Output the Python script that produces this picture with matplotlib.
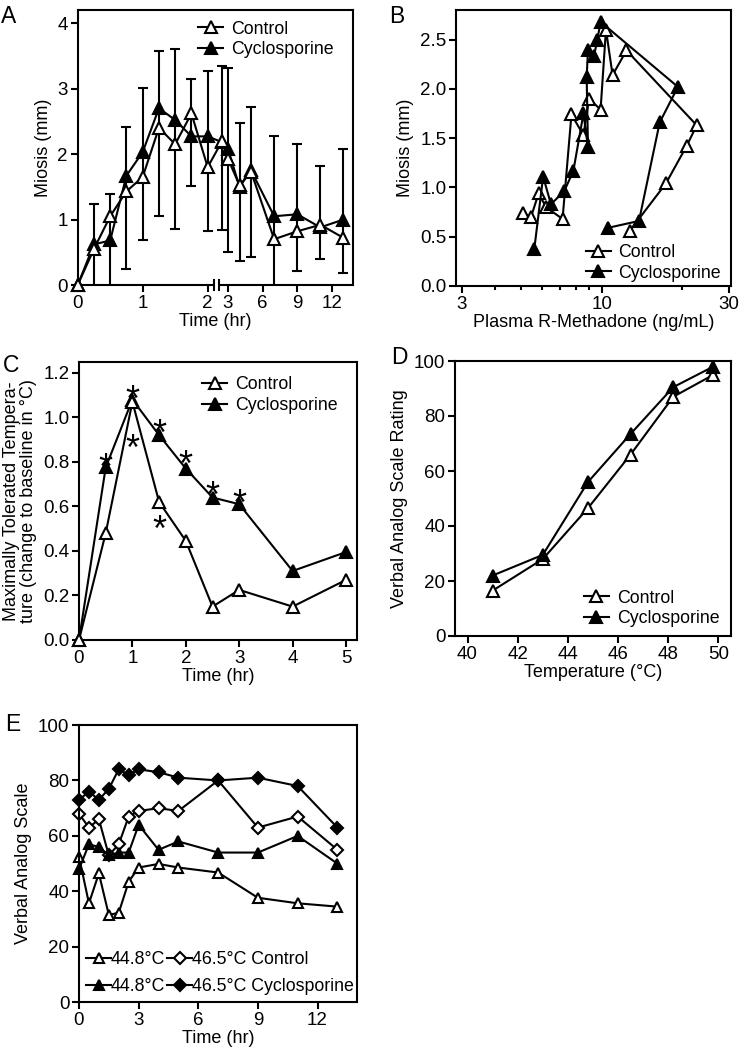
import numpy as np
import matplotlib
matplotlib.use('Agg')
import matplotlib.pyplot as plt
from matplotlib.ticker import FixedLocator, FormatStrFormatter, NullFormatter

plt.rcParams['font.family'] = ['Liberation Sans', 'DejaVu Sans']
plt.rcParams['font.size'] = 13.5
plt.rcParams['axes.linewidth'] = 1.5
plt.rcParams['xtick.major.width'] = 1.5
plt.rcParams['ytick.major.width'] = 1.5
plt.rcParams['xtick.minor.width'] = 1.5
plt.rcParams['xtick.major.size'] = 5
plt.rcParams['ytick.major.size'] = 5
plt.rcParams['xtick.minor.size'] = 3
plt.rcParams['xtick.major.pad'] = 2
plt.rcParams['ytick.major.pad'] = 2

# ---- data ----
# A: miosis vs time
a_time = [0, 0.25, 0.5, 0.75, 1, 1.25, 1.5, 1.75, 2, 2.5, 3, 4, 5, 7, 9, 11, 13]
a_ctrl = [0, 0.55, 1.05, 1.43, 1.65, 2.40, 2.15, 2.62, 1.80, 2.20, 1.93, 1.52, 1.73, 0.70, 0.82, 0.92, 0.72]
a_cyc = [0, 0.62, 0.68, 1.67, 2.03, 2.70, 2.52, 2.27, 2.27, 2.18, 2.08, 1.50, 1.75, 1.05, 1.08, 0.88, 1.00]
a_err_t = [0.25, 0.5, 0.75, 1, 1.25, 1.5, 1.75, 2, 2.5, 3, 4, 5, 7, 9, 11, 13]
a_err_lo = [-0.2, -0.2, 0.25, 0.68, 1.06, 0.86, 1.51, 0.82, 0.84, 0.51, 0.36, 0.43, -0.3, 0.22, 0.40, 0.19]
a_err_hi = [1.23, 1.39, 2.42, 3.01, 3.57, 3.60, 3.15, 3.27, 3.34, 3.32, 2.48, 2.72, 2.27, 2.16, 1.81, 2.07]
a_ticks = [0, 1, 2, 3, 6, 9, 12]

# B: miosis vs plasma R-methadone
b_ctrl_conc = [5.06, 5.44, 5.81, 6.19, 7.14, 7.71, 8.55, 8.97, 9.91, 10.38, 10.99, 12.39, 22.7, 20.8, 17.4, 12.75]
b_ctrl_mio = [0.74, 0.70, 0.94, 0.80, 0.68, 1.74, 1.53, 1.90, 1.79, 2.60, 2.14, 2.39, 1.63, 1.42, 1.04, 0.56]
b_cyc_conc = [5.6, 6.04, 6.46, 7.24, 7.84, 8.55, 8.89, 8.79, 8.89, 9.36, 9.64, 9.91, 19.3, 16.5, 13.8, 10.56]
b_cyc_mio = [0.38, 1.11, 0.83, 0.96, 1.17, 1.75, 1.41, 2.12, 2.39, 2.33, 2.50, 2.68, 2.02, 1.66, 0.66, 0.59]

# C: maximally tolerated temperature
c_time = [0, 0.5, 1, 1.5, 2, 2.5, 3, 4, 5]
c_ctrl = [0, 0.48, 1.07, 0.62, 0.445, 0.15, 0.225, 0.15, 0.27]
c_cyc = [0, 0.775, 1.08, 0.92, 0.77, 0.64, 0.61, 0.31, 0.395]
c_star_t = [0.5, 1, 1.5, 2, 2.5, 3, 1, 1.5]
c_star_y = [0.82, 1.125, 0.975, 0.835, 0.695, 0.66, 0.905, 0.54]

# D: VAS rating vs temperature
d_temp = [41, 43, 44.8, 46.5, 48.2, 49.8]
d_ctrl = [16.5, 28, 46.5, 66, 87, 95]
d_cyc = [22, 29.5, 56, 73.5, 90.5, 98]

# E: VAS vs time
e_time = [0, 0.5, 1, 1.5, 2, 2.5, 3, 4, 5, 7, 9, 11, 13]
e_ctrl_448 = [52.5, 35.7, 46.5, 31.5, 32.3, 43.5, 48.6, 49.9, 48.6, 46.8, 37.7, 35.7, 34.5]
e_ctrl_465 = [68, 63, 66, 53, 57, 67, 69, 70, 69, 80, 63, 67, 55]
e_cyc_448 = [48, 57, 56, 53, 54, 54, 64, 55, 58, 54, 54, 60, 50]
e_cyc_465 = [73, 76, 73, 77, 84, 82, 84, 83, 81, 80, 81, 78, 63]

W, H = 744, 1048
fig = plt.figure(figsize=(W / 100, H / 100), dpi=100)


def add_ax(l, t, r, b):
    return fig.add_axes([l / W, 1 - b / H, (r - l) / W, (b - t) / H])


open_tri = dict(color='k', marker='^', mfc='white', mec='k', mew=1.5, ms=8.5, lw=1.5, clip_on=False)
fill_tri = dict(color='k', marker='^', mfc='k', mec='k', mew=1.5, ms=8.5, lw=1.5, clip_on=False)
leg_kw = dict(frameon=False, fontsize=12.8, handlelength=1.4, handletextpad=0.45, labelspacing=0.2)
lab = 13

# ---------- A ----------
axA = add_ax(77.7, 10, 352.7, 285)
t_knots = [-1, 2.1, 2.2, 20]
u_knots = [-1, 2.1, 2.17, 2.17 + 17.8 * 0.1777]
axA.set_xscale('function', functions=(lambda t: np.interp(t, t_knots, u_knots),
                                      lambda u: np.interp(u, u_knots, t_knots)))
lo = np.array(a_err_lo)
hi = np.array(a_err_hi)
axA.errorbar(a_err_t, (lo + hi) / 2, yerr=(hi - lo) / 2, fmt='none', ecolor='k',
             elinewidth=1.5, capsize=3.6, capthick=1.5, zorder=1)
axA.plot(a_time, a_ctrl, label='Control', zorder=3, **open_tri)
axA.plot(a_time, a_cyc, label='Cyclosporine', zorder=2, **fill_tri)
axA.set_xlim(0, 13.8)
axA.set_ylim(0, 4.2)
axA.xaxis.set_major_locator(FixedLocator(a_ticks))
axA.xaxis.set_minor_locator(FixedLocator([]))
axA.set_yticks([0, 1, 2, 3, 4])
axA.spines['bottom'].set_visible(False)
tr = axA.get_xaxis_transform()
axA.plot([0, 2.1], [0, 0], transform=tr, color='k', lw=1.5, clip_on=False, solid_capstyle='butt')
axA.plot([2.2, 13.8], [0, 0], transform=tr, color='k', lw=1.5, clip_on=False, solid_capstyle='butt')
for xb in [2.1, 2.2]:
    axA.plot([xb, xb], [-0.018, 0.018], transform=tr, color='k', lw=1.5, clip_on=False)
axA.set_xlabel('Time (hr)', fontsize=lab, labelpad=1)
axA.set_ylabel('Miosis (mm)', fontsize=lab)
axA.legend(loc='upper right', bbox_to_anchor=(0.99, 1.02), **leg_kw)

# ---------- B ----------
axB = add_ax(456, 10, 731, 286)
axB.plot(b_ctrl_conc, b_ctrl_mio, label='Control', **open_tri)
axB.plot(b_cyc_conc, b_cyc_mio, label='Cyclosporine', **fill_tri)
axB.set_xscale('log')
axB.set_xlim(2.85, 30.5)
axB.set_ylim(0, 2.8)
axB.xaxis.set_major_locator(FixedLocator([3, 10, 30]))
axB.xaxis.set_major_formatter(FormatStrFormatter('%g'))
axB.xaxis.set_minor_locator(FixedLocator([4, 5, 6, 7, 8, 9, 20]))
axB.xaxis.set_minor_formatter(NullFormatter())
axB.set_yticks([0, 0.5, 1, 1.5, 2, 2.5])
axB.yaxis.set_major_formatter(FormatStrFormatter('%.1f'))
axB.set_xlabel('Plasma R-Methadone (ng/mL)', fontsize=lab, labelpad=1)
axB.set_ylabel('Miosis (mm)', fontsize=lab)
axB.legend(loc='lower right', bbox_to_anchor=(0.99, -0.01), borderaxespad=0.0, **leg_kw)

# ---------- C ----------
axC = add_ax(79, 361.7, 356.7, 640)
axC.plot(c_time, c_ctrl, label='Control', zorder=3, **open_tri)
axC.plot(c_time, c_cyc, label='Cyclosporine', zorder=2, **fill_tri)
for st, sy in zip(c_star_t, c_star_y):
    axC.annotate('*', xy=(st, sy), xytext=(0, -15.5), textcoords='offset points',
                 ha='center', va='baseline', fontsize=26)
axC.set_xlim(0, 5.2)
axC.set_ylim(0, 1.25)
axC.set_xticks([0, 1, 2, 3, 4, 5])
axC.set_yticks([0, 0.2, 0.4, 0.6, 0.8, 1.0, 1.2])
axC.yaxis.set_major_formatter(FormatStrFormatter('%.1f'))
axC.set_xlabel('Time (hr)', fontsize=lab, labelpad=1)
axC.set_ylabel('Maximally Tolerated Tempera-\nture (change to baseline in °C)', fontsize=lab,
               linespacing=1.0)
axC.legend(loc='upper right', bbox_to_anchor=(0.99, 1.005), **leg_kw)

# ---------- D ----------
axD = add_ax(455, 361, 731, 636)
axD.plot(d_temp, d_ctrl, label='Control', **open_tri)
axD.plot(d_temp, d_cyc, label='Cyclosporine', **fill_tri)
axD.set_xlim(39.5, 50.5)
axD.set_ylim(0, 100)
axD.set_xticks([40, 42, 44, 46, 48, 50])
axD.set_yticks([0, 20, 40, 60, 80, 100])
axD.set_xlabel('Temperature (°C)', fontsize=lab, labelpad=1)
axD.set_ylabel('Verbal Analog Scale Rating', fontsize=lab)
axD.legend(loc='lower right', bbox_to_anchor=(0.99, 0.0), borderaxespad=0.1, **leg_kw)

# ---------- E ----------
axE = add_ax(79, 725, 357.3, 1002.3)
small = dict(mew=1.5, lw=1.5, color='k', mec='k', clip_on=False)
h1, = axE.plot(e_time, e_ctrl_448, marker='^', mfc='white', ms=7.5, **small)
h2, = axE.plot(e_time, e_ctrl_465, marker='D', mfc='white', ms=6.5, **small)
h3, = axE.plot(e_time, e_cyc_448, marker='^', mfc='k', ms=7.5, **small)
h4, = axE.plot(e_time, e_cyc_465, marker='D', mfc='k', ms=6.5, **small)
axE.set_xlim(0, 14)
axE.set_ylim(0, 100)
axE.set_xticks([0, 3, 6, 9, 12])
axE.set_yticks([0, 20, 40, 60, 80, 100])
axE.set_xlabel('Time (hr)', fontsize=lab, labelpad=1)
axE.set_ylabel('Verbal Analog Scale', fontsize=lab)
axE.legend([h1, h3, h2, h4], ['44.8°C', '44.8°C', '46.5°C Control', '46.5°C Cyclosporine'],
           ncol=2, loc='lower left', bbox_to_anchor=(0.0, 0.0), frameon=False, fontsize=12.8,
           handlelength=1.4, handletextpad=0.0, columnspacing=0.1, labelspacing=0.55,
           borderaxespad=0.2, borderpad=0.2)

# panel letters
for letter, px, py in [('A', 1, 5), ('B', 389, 5), ('C', 3, 354), ('D', 391, 346), ('E', 5, 713)]:
    fig.text(px / W, 1 - py / H, letter, fontsize=16.5, ha='left', va='top')

fig.savefig('out.png', dpi=100)
